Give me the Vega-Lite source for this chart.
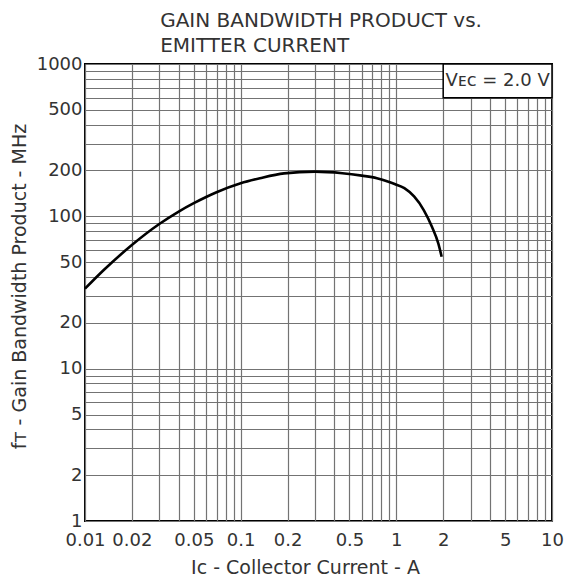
{
  "$schema": "https://vega.github.io/schema/vega-lite/v6.json",
  "width": 467,
  "height": 457,
  "autosize": {"type": "none"},
  "padding": {"left": 85, "top": 64, "right": 13, "bottom": 62},
  "background": "white",
  "title": {
    "text": ["GAIN BANDWIDTH PRODUCT vs.", "EMITTER CURRENT"],
    "anchor": "start",
    "dx": 150,
    "offset": -1,
    "font": "DejaVu Sans",
    "fontSize": 20,
    "fontWeight": "normal",
    "color": "#333333",
    "lineHeight": 25
  },
  "config": {
    "view": {"stroke": "#000000", "strokeWidth": 2},
    "axis": {
      "labelFont": "DejaVu Sans",
      "labelFontSize": 18,
      "labelColor": "#333333",
      "titleFont": "DejaVu Sans",
      "titleFontSize": 19,
      "titleFontWeight": "normal",
      "titleColor": "#333333",
      "gridColor": "#737373",
      "gridWidth": 1.2,
      "gridOpacity": 1,
      "ticks": false,
      "domain": false,
      "labelOverlap": false,
      "labelFlush": false
    }
  },
  "datasets": {
    "curve": [
      {"ic": 0.01, "ft": 33.5},
      {"ic": 0.0132, "ft": 44.4},
      {"ic": 0.02, "ft": 64.8},
      {"ic": 0.03, "ft": 89},
      {"ic": 0.04, "ft": 107.5},
      {"ic": 0.05, "ft": 122},
      {"ic": 0.06, "ft": 134},
      {"ic": 0.07, "ft": 144},
      {"ic": 0.1, "ft": 165},
      {"ic": 0.133, "ft": 178},
      {"ic": 0.19, "ft": 191.5},
      {"ic": 0.3, "ft": 196.5},
      {"ic": 0.45, "ft": 192},
      {"ic": 0.6, "ft": 185},
      {"ic": 0.75, "ft": 178},
      {"ic": 0.9, "ft": 168},
      {"ic": 0.975, "ft": 163},
      {"ic": 1.126, "ft": 153},
      {"ic": 1.3, "ft": 135},
      {"ic": 1.5, "ft": 110},
      {"ic": 1.693, "ft": 85.5},
      {"ic": 1.86, "ft": 66.5},
      {"ic": 1.955, "ft": 54.3}
    ],
    "note": [
      {"x1": 2, "x2": 10, "y1": 600, "y2": 1000, "xm": 4.472, "ym": 774.6, "label": "Vᴇᴄ = 2.0 V"}
    ]
  },
  "layer": [
    {
      "data": {"name": "curve"},
      "mark": {"type": "line", "color": "#000000", "strokeWidth": 2.6, "interpolate": "monotone"},
      "encoding": {
        "x": {
          "field": "ic",
          "type": "quantitative",
          "scale": {"type": "log", "domain": [0.01, 10], "nice": false},
          "axis": {
            "title": "Iᴄ - Collector Current - A",
            "values": [0.01, 0.02, 0.03, 0.04, 0.05, 0.06, 0.07, 0.08, 0.09, 0.1, 0.2, 0.3, 0.4, 0.5, 0.6, 0.7, 0.8, 0.9, 1, 2, 3, 4, 5, 6, 7, 8, 9, 10],
            "format": "~g",
            "labelExpr": "indexof([0.01, 0.02, 0.05, 0.1, 0.2, 0.5, 1, 2, 5, 10], datum.value) >= 0 ? datum.label : ''",
            "labelPadding": 10,
            "titlePadding": 9,
            "titleX": 220
          }
        },
        "y": {
          "field": "ft",
          "type": "quantitative",
          "scale": {"type": "log", "domain": [1, 1000], "nice": false},
          "axis": {
            "title": "fᴛ - Gain Bandwidth Product - MHz",
            "values": [1, 2, 3, 4, 5, 6, 7, 8, 9, 10, 20, 30, 40, 50, 60, 70, 80, 90, 100, 200, 300, 400, 500, 600, 700, 800, 900, 1000],
            "format": "~g",
            "labelExpr": "indexof([1, 2, 5, 10, 20, 50, 100, 200, 500, 1000], datum.value) >= 0 ? datum.label : ''",
            "labelPadding": 3,
            "titlePadding": 7,
            "titleY": 222
          }
        }
      }
    },
    {
      "data": {"name": "note"},
      "mark": {"type": "rect", "fill": "white", "stroke": "#000000", "strokeWidth": 1.5},
      "encoding": {
        "x": {"field": "x1", "type": "quantitative"},
        "x2": {"field": "x2"},
        "y": {"field": "y1", "type": "quantitative"},
        "y2": {"field": "y2"}
      }
    },
    {
      "data": {"name": "note"},
      "mark": {"type": "text", "font": "DejaVu Sans", "fontSize": 18, "color": "#333333", "align": "center", "baseline": "middle"},
      "encoding": {
        "x": {"field": "xm", "type": "quantitative"},
        "y": {"field": "ym", "type": "quantitative"},
        "text": {"field": "label"}
      }
    }
  ]
}
